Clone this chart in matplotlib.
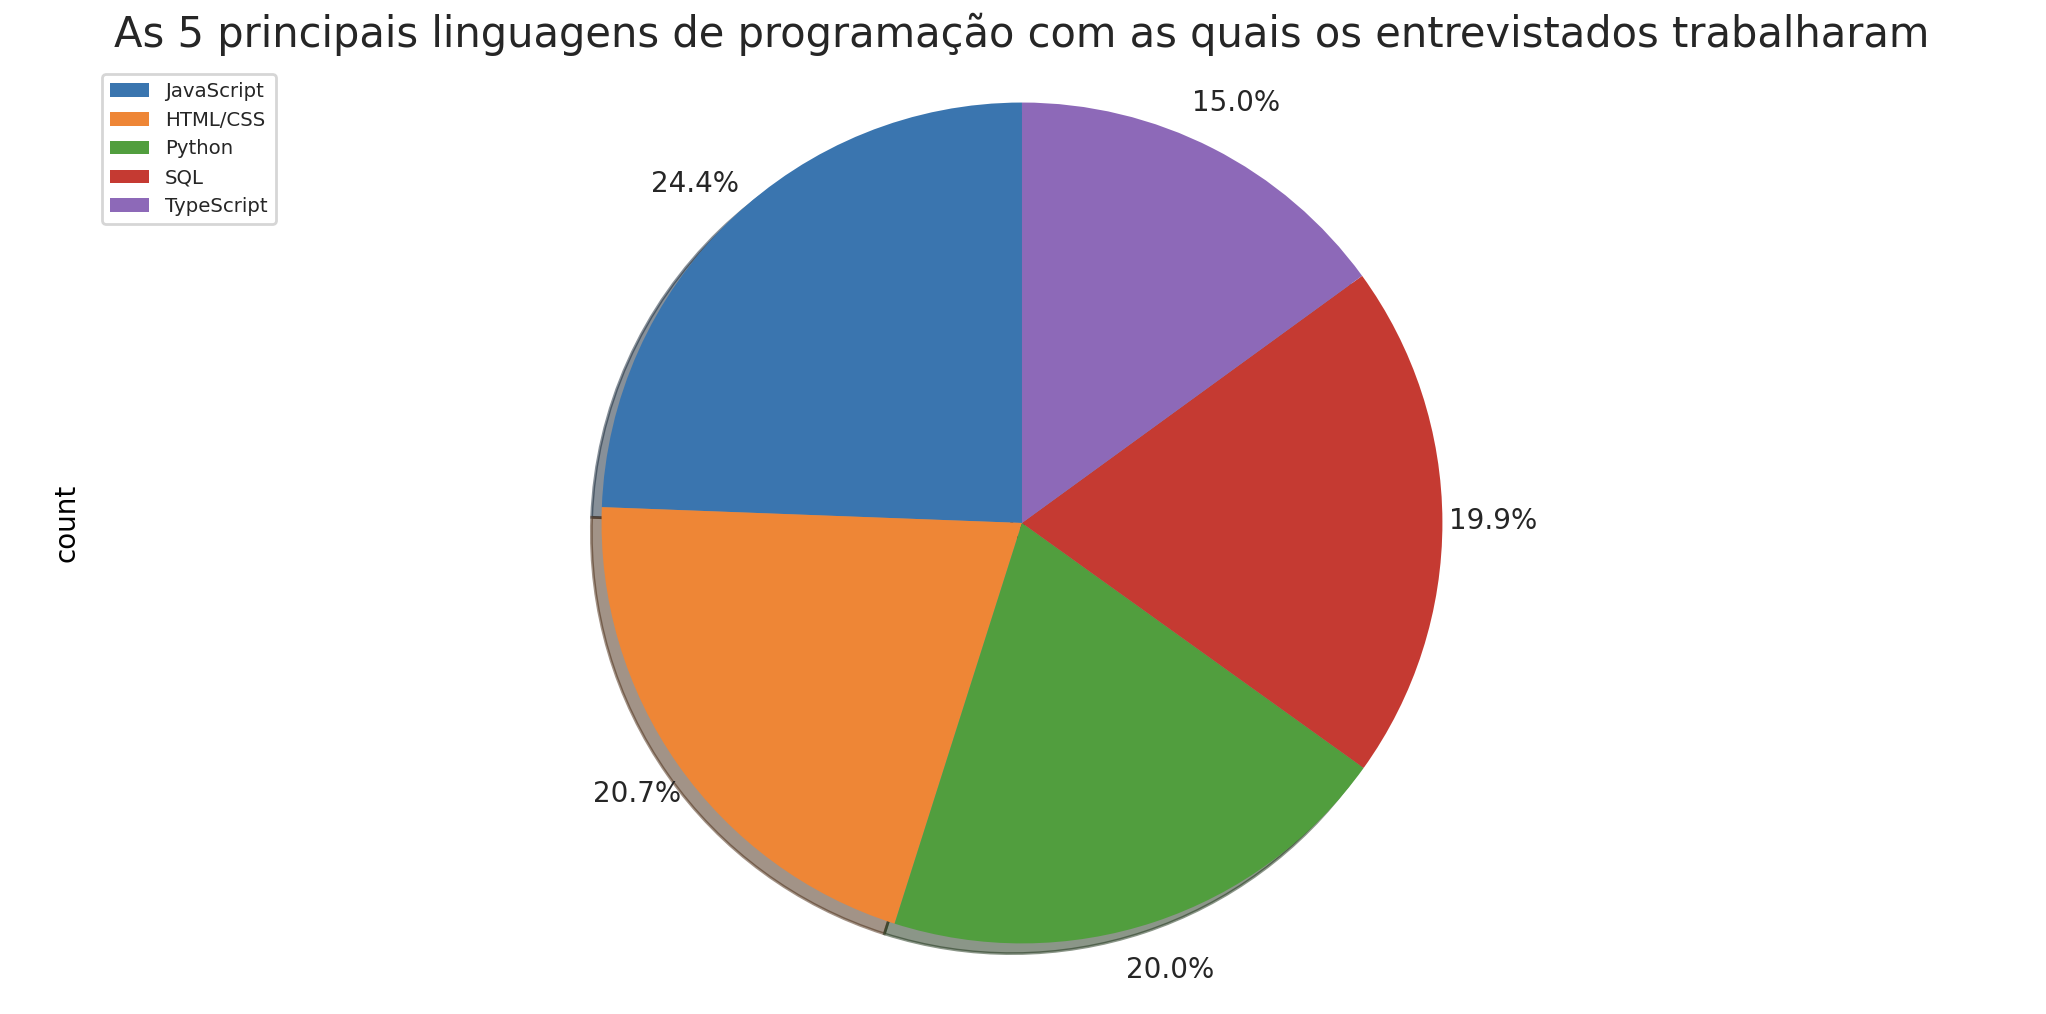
import matplotlib
matplotlib.use("Agg")
import matplotlib.pyplot as plt

# Top 5 languages (counts chosen to reproduce the shares shown)
languages = ["JavaScript", "HTML/CSS", "Python", "SQL", "TypeScript"]
counts = [2440, 2070, 2000, 1990, 1500]
colors = ["#3a75af", "#ee8636", "#519e3e", "#c53a32", "#8d69b8"]

plt.rcParams["text.color"] = "0.15"

fig = plt.figure(figsize=(10.23, 5.07), dpi=200)
ax = fig.add_axes([0.045, 0.0316, 0.909, 0.9053])

wedges, texts, autotexts = ax.pie(
    counts,
    colors=colors,
    startangle=90,
    shadow={"ox": -0.01, "oy": -0.01},
    radius=1.145,
    autopct="%1.1f%%",
    pctdistance=1.12,
    textprops={"fontsize": 10},
)
ax.set_aspect("equal", adjustable="datalim")

ax.set_title("As 5 principais linguagens de programação com as quais os entrevistados trabalharam",
             fontsize=15)
ax.set_ylabel("count", fontsize=10)
ax.legend(wedges, languages, loc="upper left", fontsize=7.1)

fig.savefig("out.png", dpi=200)
